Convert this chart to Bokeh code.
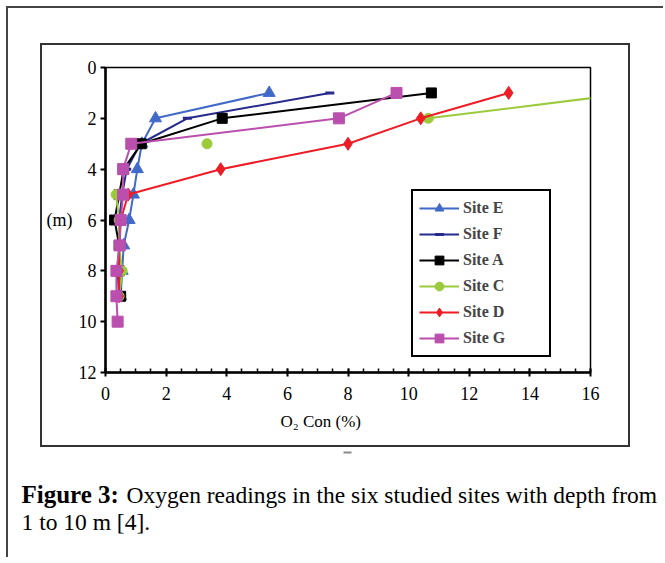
from bokeh.plotting import figure
from bokeh.layouts import column
from bokeh.models import Range1d, FixedTicker, Legend, LegendItem, Title
from bokeh.core.properties import value
from bokeh.embed import file_html
from bokeh.resources import INLINE

NaN = float("nan")

# ---- data ----
depths = [1, 2, 3, 4, 5, 6, 7, 8, 9]
depths_g = [1, 2, 3, 4, 5, 6, 7, 8, 9, 10]
site_e = [5.4, 1.65, 1.2, 1.05, 0.92, 0.78, 0.6, 0.55, 0.5]
site_f = [7.4, 2.7, 1.15, 0.7, 0.55, 0.45, 0.45, 0.4, 0.45]
site_a = [10.75, 3.85, 1.18, 0.6, 0.45, 0.3, 0.45, 0.45, 0.5]
site_c = [17.4, 10.65, 3.35, NaN, 0.35, 0.45, 0.45, 0.55, 0.45]
site_c_breaks = [2]          # line not drawn into this point
site_d = [13.3, 10.4, 8.0, 3.8, 0.75, 0.5, 0.45, 0.45, 0.45]
site_g = [9.6, 7.7, 0.85, 0.58, 0.58, 0.5, 0.47, 0.36, 0.36, 0.4]

x_ticks = [0, 2, 4, 6, 8, 10, 12, 14, 16]
y_ticks = [0, 2, 4, 6, 8, 10, 12]

SERIF = "Liberation Serif"

# ---- chart figure (inside the inner box) ----
CW, CH = 590, 404
p = figure(width=CW, height=CH, output_backend="svg", toolbar_location=None,
           x_range=Range1d(0, 16), y_range=Range1d(12, 0),
           min_border_left=63, min_border_right=42,
           min_border_top=22, min_border_bottom=77,
           margin=(35, 0, 0, 32),
           styles={"border": "2px solid #333333"})
p.grid.visible = False
p.outline_line_color = "black"
p.outline_line_width = 1.5

p.xaxis.ticker = FixedTicker(ticks=x_ticks, minor_ticks=[i * 0.5 for i in range(33)])
p.yaxis.ticker = FixedTicker(ticks=y_ticks, minor_ticks=[])
for ax in (p.xaxis, p.yaxis):
    ax.axis_line_width = 2.5
    ax.axis_line_color = "black"
    ax.major_tick_line_width = 2
    ax.major_tick_line_color = "black"
    ax.minor_tick_line_color = "black"
    ax.minor_tick_line_width = 1.5
    ax.major_label_text_font = SERIF
    ax.major_label_text_font_size = "18px"
    ax.major_label_text_color = "black"
    ax.axis_label_text_font = SERIF
    ax.axis_label_text_font_style = "normal"
    ax.axis_label_text_color = "black"
p.xaxis.major_tick_in = 4
p.xaxis.major_tick_out = 4
p.xaxis.minor_tick_in = 4
p.xaxis.minor_tick_out = 0
p.xaxis.major_label_standoff = 10
p.yaxis.major_tick_in = 0
p.yaxis.major_tick_out = 5
p.yaxis.major_label_standoff = 4

# y axis title "(m)" written horizontally
yax = p.yaxis[0]
yax.axis_label = "(m)"
yax.axis_label_text_font_size = "18px"
yax.axis_label_standoff = 3
if "axis_label_orientation" in yax.properties():
    yax.axis_label_orientation = "horizontal"

# x axis title, offset to the left as in the reference
p.add_layout(Title(text="O\u2082 Con (%)", align="left", offset=175,
                   text_font=SERIF, text_font_size="17px", text_font_style="normal",
                   text_color="black", standoff=15), "below")


def line_points(xs, ys, breaks):
    lx, ly = [], []
    for i, (x, y) in enumerate(zip(xs, ys)):
        if i in breaks:
            lx.append(NaN)
            ly.append(NaN)
        lx.append(x)
        ly.append(y)
    return lx, ly


series = [
    ("Site E", depths, site_e, [], "#4169C8", "triangle", 12),
    ("Site F", depths, site_f, [], "#262A8C", "dash", 9),
    ("Site A", depths, site_a, [], "#000000", "square", 10),
    ("Site C", depths, site_c, site_c_breaks, "#9BCB3B", "circle", 10),
    ("Site D", depths, site_d, [], "#EE1C25", "diamond", 13),
    ("Site G", depths_g, site_g, [], "#BB4FAE", "square", 11),
]

items = []
for name, dep, vals, brk, color, marker, size in series:
    lx, ly = line_points(vals, dep, brk)
    lr = p.line(lx, ly, line_color=color, line_width=2)
    sr = p.scatter(vals, dep, marker=marker, size=size, fill_color=color,
                   line_color=color, line_width=3 if marker == "dash" else 1)
    items.append(LegendItem(label=name, renderers=[lr, sr]))

legend = Legend(items=items, location=(306, 15), orientation="vertical",
                label_text_font=SERIF, label_text_font_style="bold",
                label_text_font_size="16px", glyph_width=40, glyph_height=22,
                label_height=22, label_width=80, label_standoff=4,
                spacing=4, padding=6, margin=0,
                border_line_color="black", border_line_width=2, border_line_alpha=1,
                background_fill_color="white", background_fill_alpha=1)
p.add_layout(legend, "center")

# ---- caption figure (page pixel coordinates) ----
CAPW, CAPH = 655, 110
X0, Y0 = 8, 451
cap = figure(width=CAPW, height=CAPH, output_backend="svg", toolbar_location=None,
             x_range=Range1d(X0, X0 + CAPW), y_range=Range1d(Y0 + CAPH, Y0),
             min_border=0, min_border_left=0, min_border_right=0,
             min_border_top=0, min_border_bottom=0,
             x_axis_type=None, y_axis_type=None)
cap.grid.visible = False
cap.outline_line_color = None
if "frame_align" in cap.properties():
    cap.frame_align = False
    p.frame_align = False
cap.quad(left=[343], right=[351], top=[455], bottom=[457], fill_color="#8a8a8a",
         line_color=None)
cap.text(x=[21], y=[498], text=["Figure 3:"], text_font=value(SERIF),
         text_font_style="bold", text_font_size="25px", text_baseline="alphabetic",
         text_color="black")
cap.text(x=[126, 21], y=[498, 525],
         text=["Oxygen readings in the six studied sites with depth from",
               "1 to 10 m [4]."],
         text_font=value(SERIF), text_font_size="23.5px", text_baseline="alphabetic",
         text_color="black")

root = column(p, cap, margin=(6, 0, 0, 6),
              styles={"border-left": "2px solid #444444", "border-top": "2px solid #444444"})

open("out.html", "w").write(file_html(root, INLINE))
